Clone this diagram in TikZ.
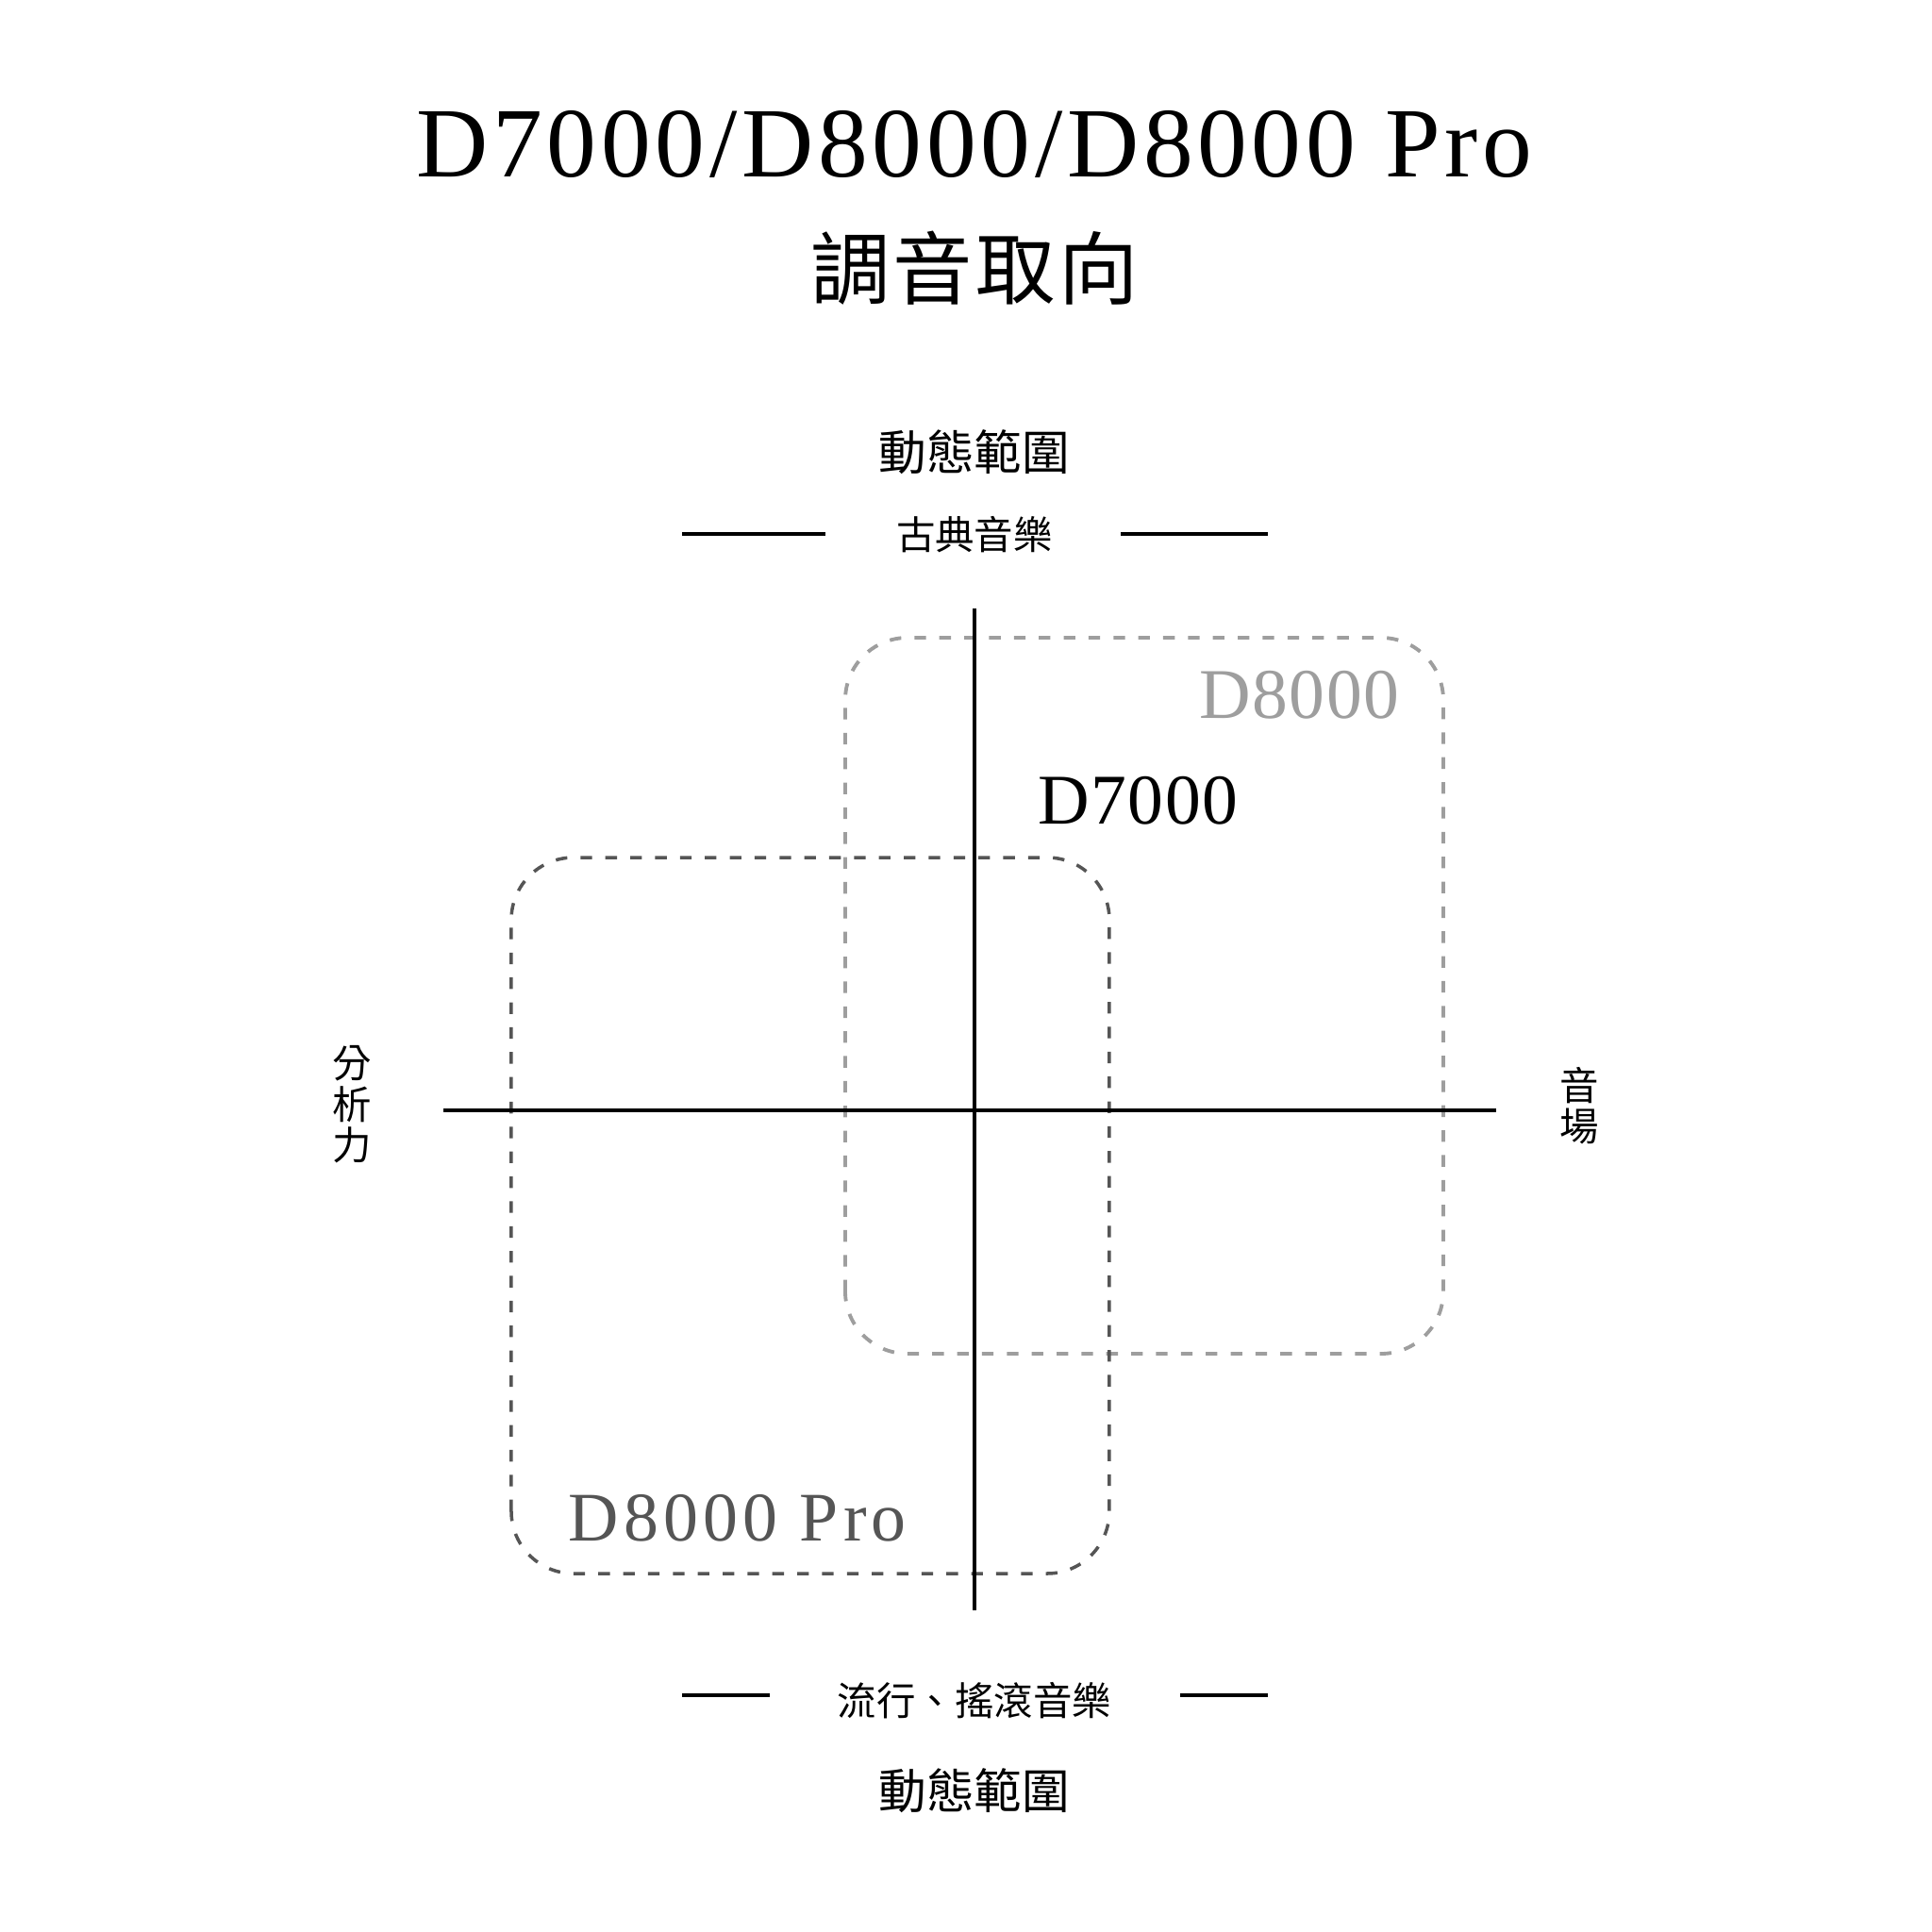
\documentclass[tikz,border=0pt]{standalone}
\usepackage{fontspec}
\setmainfont{Liberation Serif}
\newfontfamily\titlefont[LetterSpace=4.5]{Liberation Serif}
\newfontfamily\modelfont[LetterSpace=2]{Liberation Serif}
\newfontfamily\profont[LetterSpace=7]{Liberation Serif}
\newfontfamily\cjk{Noto Sans CJK TC}
\newfontfamily\cjkwide[LetterSpace=4]{Noto Sans CJK TC}
\usetikzlibrary{positioning}

\definecolor{lightgrey}{HTML}{9E9E9E}
\definecolor{darkgrey}{HTML}{555555}

\tikzset{
  axis/.style = {line width=1.15pt, black},
  rule/.style = {line width=1pt, black},
  region/.style = {dash pattern=on 3.5pt off 4pt, line width=1.1pt, rounded corners=0.66cm},
  model/.style = {font=\modelfont\fontsize{21.5}{26}\selectfont, inner sep=0pt, anchor=base west},
  cjkbig/.style = {font=\cjk\fontsize{14.4}{18}\selectfont, inner sep=0pt},
  cjksmall/.style = {font=\cjk\fontsize{11.8}{12.4}\selectfont, inner sep=0pt, align=center},
}

\begin{document}
\begin{tikzpicture}
  \useasboundingbox (-10.33,-8.71) rectangle (10.15,11.77);

  % heading
  \node (title) at (0,9.90) [anchor=base, inner sep=0pt, font=\titlefont\fontsize{30}{36}\selectfont] {D7000/D8000/D8000 Pro};
  \node (subtitle) at (0,8.93) [inner sep=0pt, font=\cjkwide\fontsize{24}{28}\selectfont] {調音取向};

  % top and bottom labels
  \node [cjkbig] (dyntop) at (0,6.98) {動態範圍};
  \node [cjksmall] (classic) at (0,6.10) {古典音樂};
  \node [cjksmall] (pop) at (0,-6.26) {流行、搖滾音樂};
  \node [cjkbig] (dynbottom) at (0,-7.21) {動態範圍};

  \coordinate (ctl) at (-3.10,6.11); \coordinate (ctr) at (-1.58,6.11);
  \coordinate (crl) at (1.55,6.11);  \coordinate (crr) at (3.11,6.11);
  \coordinate (ptl) at (-3.10,-6.20); \coordinate (ptr) at (-2.17,-6.20);
  \coordinate (prl) at (2.18,-6.20);  \coordinate (prr) at (3.11,-6.20);
  \draw [rule] (ctl) -- (ctr);
  \draw [rule] (crl) -- (crr);
  \draw [rule] (ptl) -- (ptr);
  \draw [rule] (prl) -- (prr);

  % side labels
  \node [cjksmall] (analysis) at (-6.60,0.06) {分\\析\\力};
  \node [cjksmall] (stage) at (6.41,0.05) {音\\場};

  % regions
  \draw [region, lightgrey] (-1.37,-2.58) rectangle (4.97,5.01);
  \draw [region, darkgrey, line width=1pt] (-4.91,-4.91) rectangle (1.43,2.68);

  \node [model, anchor=base east, text=lightgrey] (d8000) at (4.51,4.16) {D8000};
  \node [model] (d7000) at (0.67,3.04) {D7000};
  \node [model, font=\profont\fontsize{21}{26}\selectfont, text=darkgrey] (d8000pro) at (-4.31,-4.56) {D8000 Pro};

  % axes
  \coordinate (west) at (-5.63,0);
  \coordinate (east) at (5.53,0);
  \coordinate (north) at (0,5.32);
  \coordinate (south) at (0,-5.30);
  \draw [axis] (west) -- (east);
  \draw [axis] (north) -- (south);
\end{tikzpicture}
\end{document}
